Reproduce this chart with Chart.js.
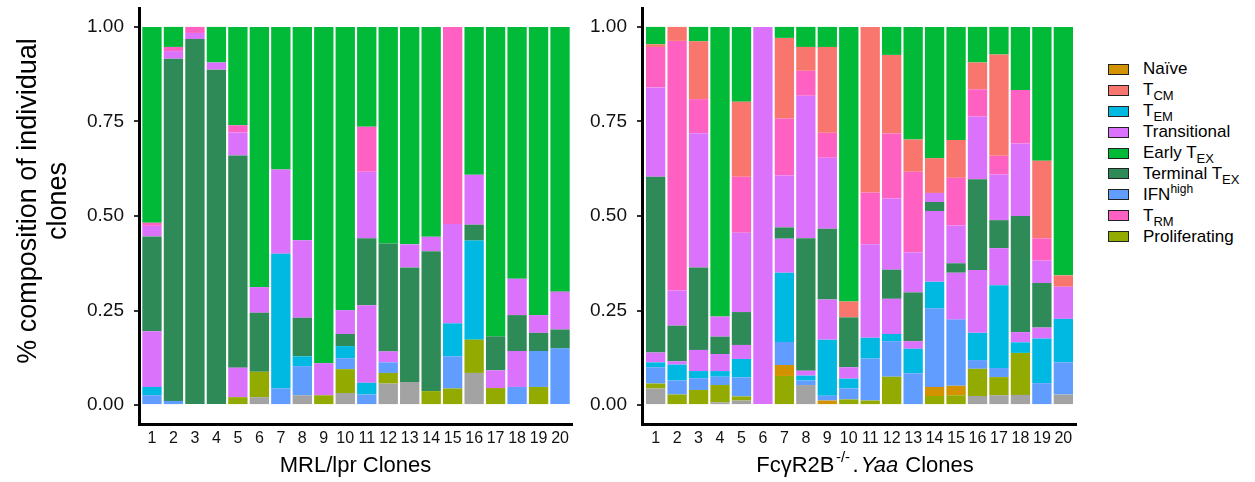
<!DOCTYPE html>
<html>
<head>
<meta charset="utf-8">
<script src="https://cdn.jsdelivr.net/npm/chart.js@4.4.0/dist/chart.umd.min.js"></script>
<style>
  body { margin: 0; background: #fff; font-family: "Liberation Sans", Arial, sans-serif; }
  #wrap { position: relative; width: 1255px; height: 482px; overflow: hidden; }
  #left { position: absolute; left: 0; top: 0; }
  #right { position: absolute; left: 580px; top: 0; }
  #legend { position: absolute; left: 1108px; top: 59px; }
  .item { display: flex; align-items: center; height: 20.9px; font-size: 17px; color: #000; white-space: nowrap; }
  .box { width: 19px; height: 9px; border: 1.5px solid #222; margin-right: 14px; flex: none; }
  .item sub { font-size: 13px; vertical-align: -5px; line-height: 0; }
  .item sup { font-size: 12px; vertical-align: 7px; line-height: 0; }
</style>
</head>
<body>
<div id="wrap">
  <canvas id="left" width="580" height="482"></canvas>
  <canvas id="right" width="500" height="482"></canvas>
  <div id="legend"></div>
</div>
<script>
Chart.defaults.font.family = '"Liberation Sans", Arial, sans-serif';

/* clone numbers on the x axis */
const clones = [1, 2, 3, 4, 5, 6, 7, 8, 9, 10, 11, 12, 13, 14, 15, 16, 17, 18, 19, 20];
const yTicks = [0, 0.25, 0.5, 0.75, 1];

/* legend order + colours (ggplot hue palette) */
const phenotypes = ['Naïve', 'TCM', 'TEM', 'Transitional', 'Early TEX', 'Terminal TEX', 'IFNhigh', 'TRM', 'Proliferating'];
const phenoLabels = ['Naïve', 'T<sub>CM</sub>', 'T<sub>EM</sub>', 'Transitional', 'Early T<sub>EX</sub>',
  'Terminal T<sub>EX</sub>', 'IFN<sup>high</sup>', 'T<sub>RM</sub>', 'Proliferating'];
const colours = {
  'Other': '#A3A3A3',
  'Naïve': '#D39200',
  'TCM': '#F8766D',
  'TEM': '#00B9E3',
  'Transitional': '#DB72FB',
  'Early TEX': '#00BA38',
  'Terminal TEX': '#2E8B57',
  'IFNhigh': '#619CFF',
  'TRM': '#FF61C3',
  'Proliferating': '#93AA00'
};

/* stacking order, bottom to top (transitional shows up below and above terminal TEX) */
const layers = ['Other', 'Proliferating', 'Naïve', 'IFNhigh', 'TEM', 'Transitional', 'Terminal TEX', 'Transitional', 'TRM', 'TCM', 'Early TEX'];

/* MRL/lpr clones, one array per layer */
const mrlOther   = [0, 0, 0, 0, 0, .021, 0, .026, 0, .032, 0, .057, .061, 0, 0, .085, 0, 0, 0, 0];
const mrlProlif  = [0, 0, 0, 0, .021, .067, 0, 0, .026, .063, 0, .028, 0, .037, .044, .088, .045, 0, .048, 0];
const mrlNaive   = [0, 0, 0, 0, 0, 0, 0, 0, 0, 0, 0, 0, 0, 0, 0, 0, 0, 0, 0, 0];
const mrlIfn     = [.026, .011, 0, 0, 0, 0, .044, .077, 0, .029, .028, .028, 0, 0, .085, 0, 0, .048, .095, .150];
const mrlTem     = [.022, 0, 0, 0, 0, 0, .356, .026, 0, .032, .031, 0, 0, 0, .087, .262, 0, 0, 0, 0];
const mrlTransLo = [.147, 0, 0, 0, .078, 0, .223, 0, .085, 0, .205, .029, 0, 0, .263, 0, .047, .095, 0, 0];
const mrlTermTex = [.251, .905, .968, .887, .561, .156, 0, .102, 0, .032, .177, .285, .303, .370, 0, .042, .090, .095, .048, .050];
const mrlTransHi = [.028, .020, .016, .019, .061, .068, 0, .205, 0, .063, .176, 0, .061, .038, 0, .132, 0, .096, .047, .100];
const mrlTrm     = [.008, .011, .016, 0, .019, 0, 0, 0, 0, 0, .119, 0, 0, 0, .521, 0, 0, 0, 0, 0];
const mrlTcm     = [0, 0, 0, 0, 0, 0, 0, 0, 0, 0, 0, 0, 0, 0, 0, 0, 0, 0, 0, 0];
const mrlEarlyTex = [.518, .053, 0, .094, .260, .688, .377, .564, .889, .749, .264, .573, .575, .555, 0, .391, .818, .666, .762, .700];

/* FcgR2B-/-.Yaa clones */
const yaaOther   = [.044, 0, 0, .007, .012, 0, 0, .053, 0, 0, 0, 0, 0, 0, 0, .024, .026, .027, 0, .028];
const yaaProlif  = [.013, .028, .040, .046, .011, 0, .077, 0, 0, .015, .012, .075, 0, .024, .026, .072, .048, .111, 0, 0];
const yaaNaive   = [0, 0, 0, 0, 0, 0, .029, 0, .012, 0, 0, 0, 0, .024, .025, 0, 0, 0, 0, 0];
const yaaIfn     = [.043, .037, .031, .022, .050, 0, .061, .012, .013, .029, .111, .094, .084, .208, .175, .023, .024, 0, .058, .085];
const yaaTem     = [.013, .042, .019, .015, .049, 0, .183, .013, .148, .026, .055, .019, .065, .070, 0, .072, .219, .028, .118, .115];
const yaaTransLo = [.026, .009, .056, .045, .037, 1, .090, .013, .106, .030, .247, .093, .020, .187, .124, .166, .098, .027, .029, .085];
const yaaTermTex = [.465, .094, .218, .046, .087, 0, .030, .350, .187, .132, 0, .077, .129, .024, .025, .240, .074, .307, .118, 0];
const yaaTransHi = [.236, .093, .355, .053, .210, 0, .137, .377, .188, 0, 0, .188, .106, .024, .100, .166, .121, .192, .059, 0];
const yaaTrm     = [.107, .660, .090, 0, .148, 0, .151, .066, .066, 0, .137, .172, .213, 0, .126, .072, .049, .141, .059, 0];
const yaaTcm     = [.007, .037, .153, 0, .198, 0, .213, .063, .227, .042, .438, .208, .085, .092, .100, .071, .268, 0, .205, .030];
const yaaEarlyTex = [.046, 0, .038, .766, .198, 0, .029, .053, .053, .726, 0, .074, .298, .347, .299, .094, .073, .167, .354, .657];

const mrlValues = [mrlOther, mrlProlif, mrlNaive, mrlIfn, mrlTem, mrlTransLo, mrlTermTex, mrlTransHi, mrlTrm, mrlTcm, mrlEarlyTex];
const yaaValues = [yaaOther, yaaProlif, yaaNaive, yaaIfn, yaaTem, yaaTransLo, yaaTermTex, yaaTransHi, yaaTrm, yaaTcm, yaaEarlyTex];

function makeDatasets(values) {
  return layers.map((name, i) => ({
    label: name,
    data: values[i],
    backgroundColor: colours[name],
    borderWidth: 0,
    barPercentage: 0.9,
    categoryPercentage: 1.0
  }));
}

/* draws an axis title with superscript / italic pieces */
const richTitle = {
  id: 'richTitle',
  afterDraw(chart, args, opts) {
    if (!opts.parts) return;
    const ctx = chart.ctx;
    const fam = '"Liberation Sans", Arial, sans-serif';
    const fontOf = p => (p.italic ? 'italic ' : '') + (p.sup ? 15 : 22) + 'px ' + fam;
    let total = 0;
    const widths = opts.parts.map(p => {
      ctx.font = fontOf(p);
      const w = ctx.measureText(p.text).width + (p.gap || 0);
      total += w;
      return w;
    });
    let x = (chart.chartArea.left + chart.chartArea.right) / 2 - total / 2 + (opts.dx || 0);
    ctx.save();
    ctx.fillStyle = '#000';
    ctx.textAlign = 'left';
    ctx.textBaseline = 'middle';
    opts.parts.forEach((p, i) => {
      ctx.font = fontOf(p);
      ctx.fillText(p.text, x + (p.gap || 0) / 2, opts.y + (p.sup ? -8 : 0));
      x += widths[i];
    });
    ctx.restore();
  }
};

function panelOptions(cfg) {
  return {
    responsive: false,
    animation: false,
    layout: { padding: { top: 8, right: cfg.padRight, left: 0, bottom: 0 } },
    plugins: {
      legend: { display: false },
      tooltip: { enabled: false },
      richTitle: cfg.richTitle || {}
    },
    scales: {
      x: {
        type: 'linear',
        stacked: true,
        offset: false,
        min: cfg.xMin,
        max: cfg.xMax,
        grid: { display: false, drawTicks: false },
        border: { display: true, color: '#000', width: 3 },
        ticks: {
          stepSize: 1,
          includeBounds: false,
          autoSkip: false,
          maxRotation: 0,
          padding: 5,
          color: '#111',
          font: { size: 16 },
          callback: (v) => clones[v - 1]
        },
        title: cfg.xTitle,
        afterFit: (s) => { s.height = 58; s.paddingLeft = 0; s.paddingRight = 0; }
      },
      y: {
        stacked: true,
        min: -0.05,
        max: 1.05,
        grid: { drawOnChartArea: false, tickLength: 5, lineWidth: 2, color: '#333' },
        border: { display: true, color: '#000', width: 3 },
        ticks: {
          stepSize: 0.25,
          includeBounds: false,
          padding: 10,
          color: '#111',
          font: { size: 19 },
          callback: (v) => yTicks.includes(v) ? v.toFixed(2) : ''
        },
        title: cfg.yTitle,
        afterFit: (s) => { s.width = cfg.yWidth; s.paddingTop = 0; s.paddingBottom = 0; }
      }
    }
  };
}

/* left panel: MRL/lpr */
const leftChart = new Chart(document.getElementById('left'), {
  type: 'bar',
  data: { labels: clones, datasets: makeDatasets(mrlValues) },
  options: panelOptions({
    padRight: 8,
    yWidth: 139,
    xMin: 0.396,
    xMax: 20.557,
    xTitle: { display: true, text: 'MRL/lpr Clones', color: '#000', font: { size: 22 }, padding: { top: 0, bottom: 3 } },
    // leading spaces nudge the rotated title up a little, like the original
    yTitle: {
      display: true,
      text: ['\u00a0\u00a0\u00a0\u00a0% composition of individual', '\u00a0\u00a0\u00a0\u00a0clones'],
      color: '#000',
      font: { size: 27, lineHeight: 1.1 },
      padding: { top: 14, bottom: 0 }
    }
  }),
  plugins: [richTitle]
});

/* right panel: FcgR2B-/-.Yaa */
const rightChart = new Chart(document.getElementById('right'), {
  type: 'bar',
  data: { labels: clones, datasets: makeDatasets(yaaValues) },
  options: panelOptions({
    padRight: 4,
    yWidth: 62,
    xMin: 0.364,
    xMax: 20.59,
    xTitle: { display: false },
    yTitle: { display: false },
    richTitle: {
      y: 466,
      dx: 6,
      parts: [
        { text: 'Fcγ' + 'R2B' },
        { text: '-/-', sup: true, gap: 3 },
        { text: '.', gap: 2 },
        { text: 'Yaa', italic: true, gap: 2 },
        { text: ' Clones' }
      ]
    }
  }),
  plugins: [richTitle]
});

/* html legend so the sub/superscripts can be real text */
const legendBox = document.getElementById('legend');
phenotypes.forEach((name, i) => {
  const row = document.createElement('div');
  row.className = 'item';
  row.innerHTML = '<span class="box" style="background:' + colours[name] + '"></span><span>' + phenoLabels[i] + '</span>';
  legendBox.appendChild(row);
});
</script>
</body>
</html>
